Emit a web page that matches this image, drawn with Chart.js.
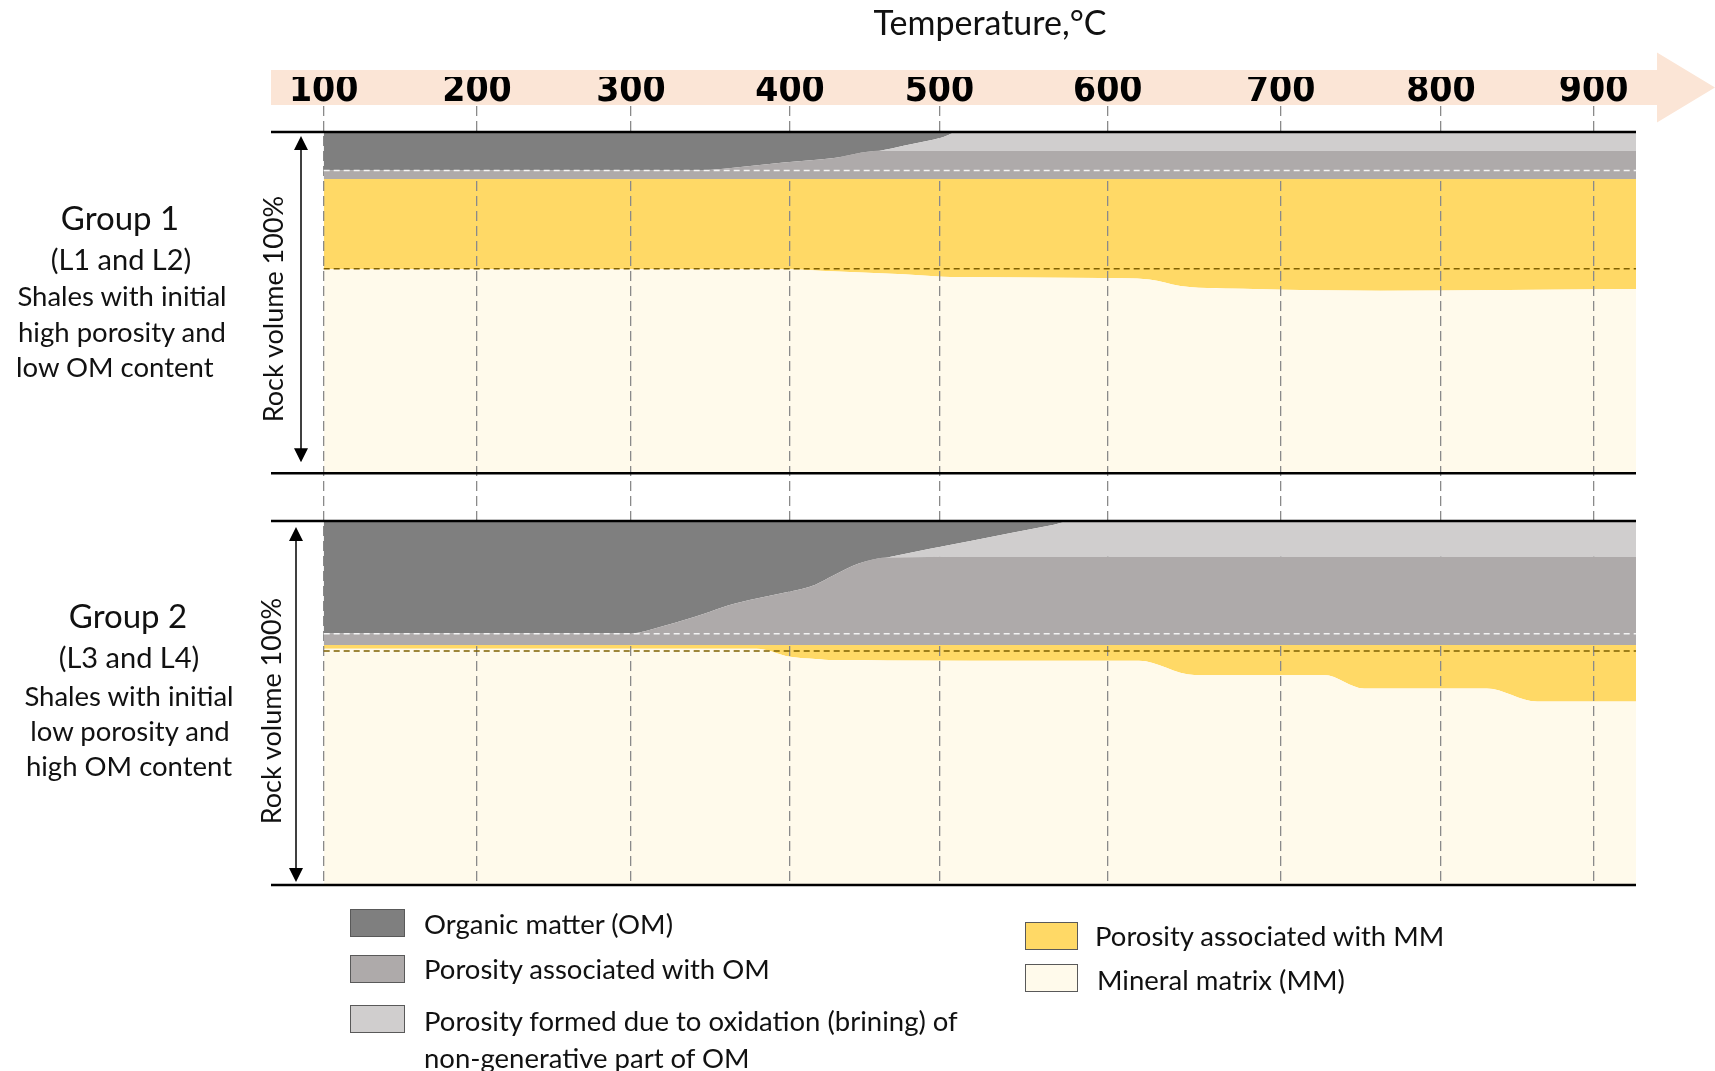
<!DOCTYPE html>
<html>
<head>
<meta charset="utf-8">
<title>Rock volume vs temperature</title>
<script src="https://cdn.jsdelivr.net/npm/chart.js@4.4.1/dist/chart.umd.min.js"></script>
<style>
  html, body { margin: 0; padding: 0; background: #fff; }
  #wrap { position: relative; width: 1715px; height: 1071px; font-family: Lato, "Open Sans", sans-serif; color: #111; }
  #wrap canvas { position: absolute; left: 0; top: 0; }
  .c, .l, .rot { position: absolute; white-space: nowrap; font-size: 27.5px; line-height: 1.2; }
  .c { transform: translate(-50%, -50%); }
  .l { transform: translateY(-50%); }
  .rot { transform: translate(-50%, -50%) rotate(-90deg); font-size: 27px; }
  .grp { font-size: 33px; }
  .sub { font-size: 29px; }
  .sw { position: absolute; box-sizing: border-box; border: 1.5px solid #595959; }
</style>
</head>
<body>
<div id="wrap">
  <canvas id="rock" width="1715" height="1071"></canvas>

  <div class="c" style="left:990px;top:22px;font-size:34px">Temperature,°C</div>

  <div class="c grp" style="left:120px;top:218px">Group 1</div>
  <div class="c sub" style="left:121px;top:259px">(L1 and L2)</div>
  <div class="c" style="left:122px;top:295px">Shales with initial</div>
  <div class="c" style="left:122px;top:331px">high porosity and</div>
  <div class="l" style="left:16px;top:366px">low OM content</div>
  <div class="rot" style="left:273px;top:309px">Rock volume 100%</div>

  <div class="c grp" style="left:128px;top:616px">Group 2</div>
  <div class="c sub" style="left:129px;top:657px">(L3 and L4)</div>
  <div class="c" style="left:129px;top:695px">Shales with initial</div>
  <div class="c" style="left:130px;top:730px">low porosity and</div>
  <div class="c" style="left:129px;top:765px">high OM content</div>
  <div class="rot" style="left:271px;top:711px">Rock volume 100%</div>

  <div class="sw" style="left:350px;top:909px;width:55px;height:28px;background:#7f7f7f"></div>
  <div class="l" style="left:424px;top:923px">Organic matter (OM)</div>
  <div class="sw" style="left:350px;top:955px;width:55px;height:28px;background:#aeaaaa"></div>
  <div class="l" style="left:424px;top:968px">Porosity associated with OM</div>
  <div class="sw" style="left:350px;top:1005px;width:55px;height:28px;background:#d0cece"></div>
  <div class="l" style="left:424px;top:1020px">Porosity formed due to oxidation (brining) of</div>
  <div class="l" style="left:424px;top:1057px">non-generative part of OM</div>
  <div class="sw" style="left:1025px;top:922px;width:53px;height:28px;background:#ffd966"></div>
  <div class="l" style="left:1095px;top:935px">Porosity associated with MM</div>
  <div class="sw" style="left:1025px;top:964px;width:53px;height:28px;background:#fffaeb"></div>
  <div class="l" style="left:1097px;top:979px">Mineral matrix (MM)</div>
</div>

<script>
const tempTicks = [100, 200, 300, 400, 500, 600, 700, 800, 900];

// Group 1 (L1, L2) - temperatures (°C) where the layer edges were read
const temps1 = [100, 336, 396, 428, 460, 476, 502, 511, 596, 624, 642, 684, 762, 928];
// volume of each layer, % of rock, bottom of the column first
const mm1    = [59.8, 59.8, 59.8, 59.2, 58.6, 58.3, 57.6, 57.5, 57.2, 56.8, 54.9, 54.0, 53.5, 54.0];
const porMm1 = [26.4, 26.4, 26.4, 27.0, 27.6, 27.9, 28.6, 28.7, 29.0, 29.4, 31.3, 32.2, 32.7, 32.2];
const porOm1 = [2.5, 2.5, 4.9, 6.1, 8.3, 8.3, 8.3, 8.3, 8.3, 8.3, 8.3, 8.3, 8.3, 8.3];
const ox1    = [0, 0, 0, 0, 0, 1.5, 4.0, 5.5, 5.5, 5.5, 5.5, 5.5, 5.5, 5.5];
const om1    = [11.3, 11.3, 8.9, 7.7, 5.5, 4.0, 1.5, 0, 0, 0, 0, 0, 0, 0];

// Group 2 (L3, L4)
const temps2 = [100, 299, 321, 346, 361, 379, 400, 417, 429, 446, 465, 568, 579, 618, 650, 727, 752, 830, 863, 928];
const mm2    = [64.9, 64.9, 64.9, 64.9, 64.9, 64.9, 62.7, 62.1, 61.8, 61.8, 61.7, 61.6, 61.6, 61.6, 57.7, 57.7, 54.0, 54.0, 50.4, 50.4];
const porMm2 = [1.0, 1.0, 1.0, 1.0, 1.0, 1.0, 3.2, 3.8, 4.1, 4.1, 4.2, 4.3, 4.3, 4.3, 8.2, 8.2, 11.9, 11.9, 15.5, 15.5];
const porOm2 = [3.2, 3.2, 5.3, 8.6, 10.9, 12.8, 14.7, 16.6, 19.1, 22.4, 24.1, 24.3, 24.3, 24.3, 24.3, 24.3, 24.3, 24.3, 24.3, 24.3];
const ox2    = [0, 0, 0, 0, 0, 0, 0, 0, 0, 0, 0, 8.8, 9.8, 9.8, 9.8, 9.8, 9.8, 9.8, 9.8, 9.8];
const om2    = [30.9, 30.9, 28.8, 25.5, 23.2, 21.3, 19.4, 17.5, 15.0, 11.7, 10.0, 1.0, 0, 0, 0, 0, 0, 0, 0, 0];

// starting levels shown as dashed lines (%), group 1 then group 2
const omStart = [88.7, 69.0];
const mmStart = [59.9, 64.3];

const layerNames = ['Mineral matrix (MM)', 'Porosity associated with MM', 'Porosity associated with OM',
  'Porosity formed due to oxidation (brining) of non-generative part of OM', 'Organic matter (OM)'];
const layerColors = ['#fffaeb', '#ffd966', '#aeaaaa', '#d0cece', '#7f7f7f'];

// the temperature axis of the original drawing is schematic: the 100 degree
// steps are not equally wide, so map values piecewise between the knots
class SchematicScale extends Chart.LinearScale {
  static id = 'schematic';
  static defaults = {};
  _decimal(value) {
    const k = this.options.knots;
    let i = 1;
    while (i < k.length - 1 && value > k[i][0]) i++;
    const [v0, f0] = k[i - 1], [v1, f1] = k[i];
    return f0 + (value - v0) / (v1 - v0) * (f1 - f0);
  }
  getPixelForValue(value) {
    return value == null ? NaN : this.getPixelForDecimal(this._decimal(value));
  }
  getValueForPixel(pixel) {
    const d = this.getDecimalForPixel(pixel);
    const k = this.options.knots;
    let i = 1;
    while (i < k.length - 1 && d > k[i][1]) i++;
    const [v0, f0] = k[i - 1], [v1, f1] = k[i];
    return v0 + (d - f0) / (f1 - f0) * (v1 - v0);
  }
}
Chart.register(SchematicScale);

function layers(temps, parts, axis) {
  let top = temps.map(() => 0);
  return parts.map((part, k) => {
    top = top.map((v, i) => v + part[i]);
    return {
      label: layerNames[k],
      data: temps.map((t, i) => ({x: t, y: top[i]})),
      yAxisID: axis,
      fill: k === 0 ? 'origin' : '-1',
      backgroundColor: layerColors[k],
      borderWidth: 0,
      pointRadius: 0,
      cubicInterpolationMode: 'monotone',
      order: k < 2 ? 2 : 1   // greys are painted last, over the grid
    };
  });
}

function refLine(level, axis, color) {
  return {
    data: [{x: 100, y: level}, {x: 928, y: level}],
    yAxisID: axis,
    borderColor: color,
    borderWidth: 1.5,
    borderDash: [6, 4],
    pointRadius: 0,
    fill: false,
    order: 0
  };
}

const datasets = [
  ...layers(temps1, [mm1, porMm1, porOm1, ox1, om1], 'y1'),
  ...layers(temps2, [mm2, porMm2, porOm2, ox2, om2], 'y2'),
  refLine(omStart[0], 'y1', '#f4f4f4'),
  refLine(mmStart[0], 'y1', '#7f6000'),
  refLine(omStart[1], 'y2', '#f4f4f4'),
  refLine(mmStart[1], 'y2', '#7f6000')
];

function panelRows(chart) {
  return ['y1', 'y2'].map(id => {
    const s = chart.scales[id];
    return {top: s.getPixelForValue(100), bottom: s.getPixelForValue(0)};
  });
}

function vArrow(ctx, x, y0, y1) {
  ctx.beginPath();
  ctx.moveTo(x, y0 + 10);
  ctx.lineTo(x, y1 - 10);
  ctx.stroke();
  ctx.beginPath();
  ctx.moveTo(x, y0); ctx.lineTo(x - 7, y0 + 14); ctx.lineTo(x + 7, y0 + 14); ctx.closePath();
  ctx.moveTo(x, y1); ctx.lineTo(x - 7, y1 - 14); ctx.lineTo(x + 7, y1 - 14); ctx.closePath();
  ctx.fill();
}

const panelDecor = {
  id: 'panelDecor',
  beforeDraw(chart) {
    // peach temperature arrow behind the tick labels
    const {ctx, chartArea: a, width} = chart;
    const top = a.top - 36, bot = a.top - 1, mid = (top + bot) / 2, neck = width - 58;
    ctx.save();
    ctx.fillStyle = '#fbe5d6';
    ctx.beginPath();
    ctx.moveTo(a.left, top);
    ctx.lineTo(neck, top);
    ctx.lineTo(neck, mid - 35);
    ctx.lineTo(width, mid);
    ctx.lineTo(neck, mid + 35);
    ctx.lineTo(neck, bot);
    ctx.lineTo(a.left, bot);
    ctx.closePath();
    ctx.fill();
    ctx.restore();
  },
  afterDatasetDraw(chart, args) {
    // dataset 0 is the last light layer painted: put the grid over the
    // cream and yellow layers but under the grey ones
    if (args.index !== 0) return;
    const {ctx, chartArea: a} = chart;
    ctx.save();
    ctx.beginPath();
    panelRows(chart).forEach(r => ctx.rect(a.left, r.top, a.width, r.bottom - r.top));
    ctx.clip();
    chart.scales.x.drawGrid(a);
    ctx.restore();
  },
  afterDatasetsDraw(chart) {
    const {ctx, chartArea: a} = chart;
    ctx.save();
    ctx.strokeStyle = '#000';
    ctx.fillStyle = '#000';
    ctx.lineWidth = 2.5;
    panelRows(chart).forEach(r => {
      ctx.beginPath();
      ctx.moveTo(a.left, r.top); ctx.lineTo(a.right, r.top);
      ctx.moveTo(a.left, r.bottom); ctx.lineTo(a.right, r.bottom);
      ctx.stroke();
    });
    ctx.lineWidth = 1.5;
    const rows = panelRows(chart);
    vArrow(ctx, a.left + 30, rows[0].top + 4, rows[0].bottom - 11);
    vArrow(ctx, a.left + 25, rows[1].top + 6, rows[1].bottom - 3);
    ctx.restore();
  }
};

new Chart(document.getElementById('rock'), {
  type: 'line',
  data: {datasets},
  options: {
    responsive: false,
    animation: false,
    devicePixelRatio: 1,
    // the top axis is label height + 2 * padding tall (33.3 - 4.3)
    layout: {padding: {left: 271, right: 79, top: 77, bottom: 186}},
    plugins: {
      legend: {display: false},
      tooltip: {enabled: false},
      filler: {drawTime: 'beforeDatasetDraw'}
    },
    scales: {
      x: {
        type: 'schematic',
        position: 'top',
        min: 65.6,
        max: 928,
        knots: [[65.6, 0], [100, 0.0386], [200, 0.1509], [300, 0.2637], [400, 0.3802], [500, 0.4897],
                [600, 0.6130], [700, 0.7397], [800, 0.8571], [900, 0.9689], [928, 1]],
        afterBuildTicks: axis => { axis.ticks = tempTicks.map(v => ({value: v})); },
        grid: {color: '#8a8a8a', lineWidth: 1.3, drawTicks: false},
        border: {display: false, dash: [10, 5]},
        ticks: {
          autoSkip: false,
          maxRotation: 0,
          padding: -2.15,
          color: '#000',
          font: {family: "'Liberation Sans Narrow', 'DejaVu Sans Condensed', sans-serif", size: 37, weight: 'bold', lineHeight: 0.9}
        }
      },
      y1: {type: 'linear', display: false, min: -6.94, max: 107.62, stack: 'panels', stackWeight: 391, weight: 2},
      y2: {type: 'linear', display: false, min: 0, max: 106.59, stack: 'panels', stackWeight: 388, weight: 1}
    }
  },
  plugins: [panelDecor]
});
</script>
</body>
</html>
